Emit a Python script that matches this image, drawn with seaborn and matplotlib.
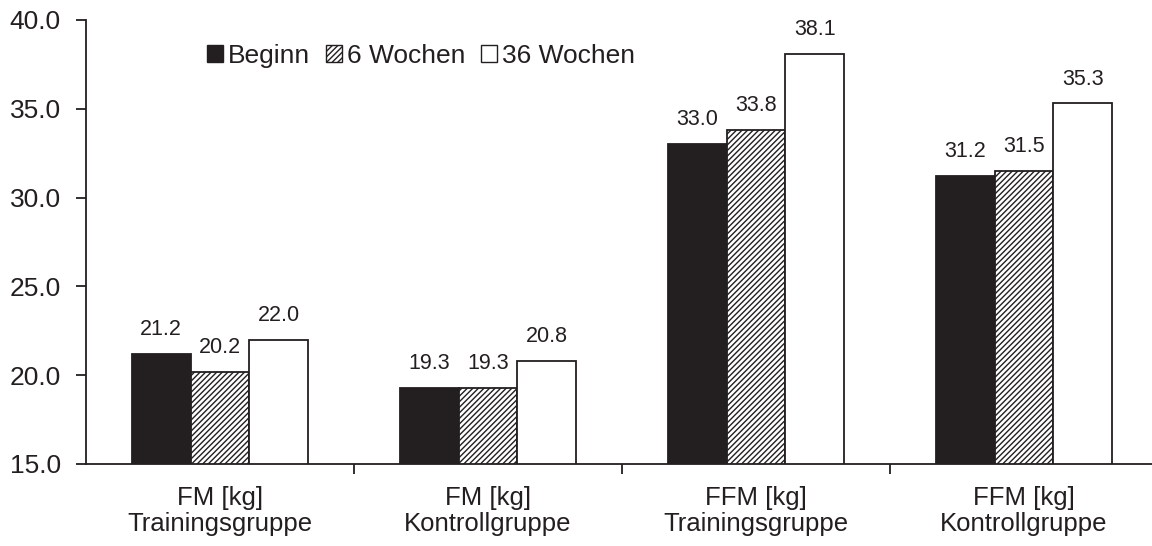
import matplotlib
matplotlib.use("Agg")
import matplotlib.pyplot as plt
import seaborn as sns
import pandas as pd
from matplotlib.patches import Patch

categories = ["FM [kg]\nTrainingsgruppe", "FM [kg]\nKontrollgruppe",
              "FFM [kg]\nTrainingsgruppe", "FFM [kg]\nKontrollgruppe"]
series = ["Beginn", "6 Wochen", "36 Wochen"]
beginn = [21.2, 19.3, 33.0, 31.2]
wochen6 = [20.2, 19.3, 33.8, 31.5]
wochen36 = [22.0, 20.8, 38.1, 35.3]
yticks = [15.0, 20.0, 25.0, 30.0, 35.0, 40.0]

rows = []
for s, vals in zip(series, [beginn, wochen6, wochen36]):
    for c, v in zip(categories, vals):
        rows.append({"cat": c, "series": s, "value": v})
df = pd.DataFrame(rows)

sns.set_theme(style="white")
plt.rcParams["font.family"] = ["Liberation Sans", "DejaVu Sans"]
plt.rcParams["hatch.linewidth"] = 1.0
plt.rcParams["hatch.color"] = "#231f20"

fig = plt.figure(figsize=(11.52, 5.46), dpi=100)
ax = fig.add_axes([86/1152, 82/546, 1072/1152, 444/546])

dark = "#231f20"
palette = {"Beginn": dark, "6 Wochen": "white", "36 Wochen": "white"}
sns.barplot(data=df, x="cat", y="value", hue="series", hue_order=series,
            order=categories, palette=palette, width=0.66, ax=ax,
            edgecolor=dark, linewidth=1.3, saturation=1, legend=False)

for cont, s in zip(ax.containers, series):
    for p in cont.patches:
        p.set_edgecolor(dark)
        if s == "6 Wochen":
            p.set_hatch("//////")
    ax.bar_label(cont, fmt="%.1f", padding=10, fontsize=15.5, color=dark)

ax.set_ylim(15, 40)
ax.set_xlim(-0.5, 3.5)
ax.set_yticks(yticks)
ax.set_yticklabels([f"{t:.1f}" for t in yticks], fontsize=19, color=dark)
ax.set_xticks([0, 1, 2, 3])
ax.set_xticklabels(categories, fontsize=18.5, color=dark, linespacing=1.1)
ax.tick_params(axis="x", length=0, pad=16)
ax.tick_params(axis="y", direction="out", length=7, width=1.3, color=dark, left=True, pad=11)
# category separator ticks
ax.set_xticks([0.5, 1.5, 2.5], minor=True)
ax.tick_params(axis="x", which="minor", direction="out", length=7, width=1.3,
               color=dark, bottom=True)
ax.set_xlabel("")
ax.set_ylabel("")
for side in ["top", "right"]:
    ax.spines[side].set_visible(False)
for side in ["left", "bottom"]:
    ax.spines[side].set_color(dark)
    ax.spines[side].set_linewidth(1.3)

handles = [Patch(facecolor=dark, edgecolor=dark),
           Patch(facecolor="white", edgecolor=dark, hatch="//////"),
           Patch(facecolor="white", edgecolor=dark)]
leg = ax.legend(handles, series, loc="upper left", bbox_to_anchor=(0.103, 0.97),
                ncol=3, frameon=False, fontsize=19, handlelength=0.6,
                handleheight=0.6, handletextpad=0.2, columnspacing=0.6,
                borderaxespad=0)
for t in leg.get_texts():
    t.set_color(dark)

fig.savefig("out.png", dpi=100)
